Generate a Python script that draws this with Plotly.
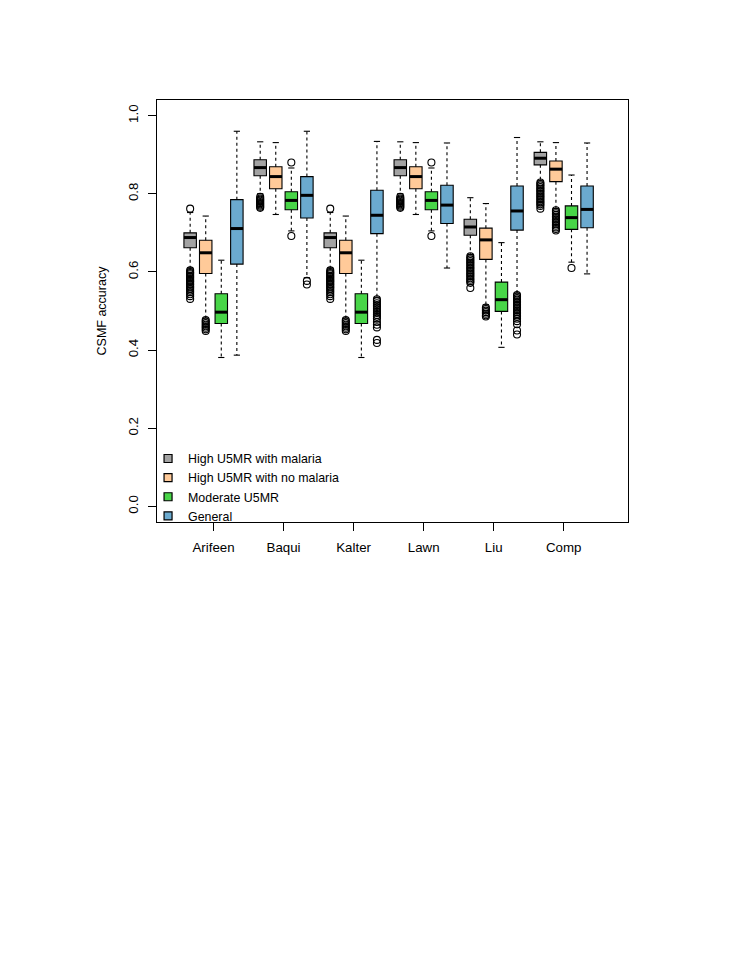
import plotly.graph_objects as go

# ---------------- data ----------------
groups = ["Arifeen", "Baqui", "Kalter", "Lawn", "Liu", "Comp"]
series_names = ["High U5MR with malaria", "High U5MR with no malaria", "Moderate U5MR", "General"]
series_colors = ["#A3A3A3", "#FFCA99", "#48D548", "#6BAACF"]

# High U5MR with malaria (gray)
gray_lower = [0.610, 0.800, 0.610, 0.800, 0.645, 0.833]
gray_q1 = [0.662, 0.846, 0.662, 0.846, 0.694, 0.874]
gray_median = [0.688, 0.867, 0.688, 0.867, 0.715, 0.891]
gray_q3 = [0.700, 0.887, 0.700, 0.887, 0.735, 0.906]
gray_upper = [0.752, 0.933, 0.752, 0.933, 0.790, 0.933]
gray_outliers = [
    [0.762, 0.604, 0.600, 0.597, 0.594, 0.590, 0.587, 0.584, 0.580, 0.577, 0.574,
     0.570, 0.567, 0.563, 0.560, 0.556, 0.552, 0.548, 0.543, 0.538, 0.531],
    [0.792, 0.788, 0.785, 0.782, 0.779, 0.776, 0.773, 0.770, 0.767, 0.764],
    [0.762, 0.604, 0.600, 0.597, 0.594, 0.590, 0.587, 0.584, 0.580, 0.577, 0.574,
     0.570, 0.567, 0.563, 0.560, 0.556, 0.552, 0.548, 0.543, 0.538, 0.531],
    [0.792, 0.788, 0.785, 0.782, 0.779, 0.776, 0.773, 0.770, 0.767, 0.764],
    [0.640, 0.636, 0.632, 0.628, 0.624, 0.620, 0.616, 0.612, 0.608, 0.604, 0.600,
     0.596, 0.592, 0.588, 0.584, 0.580, 0.576, 0.572, 0.559],
    [0.829, 0.825, 0.821, 0.817, 0.813, 0.809, 0.805, 0.801, 0.797, 0.793, 0.789,
     0.785, 0.781, 0.777, 0.773, 0.769, 0.762],
]

# High U5MR with no malaria (orange)
orange_lower = [0.482, 0.747, 0.482, 0.747, 0.516, 0.762]
orange_q1 = [0.596, 0.813, 0.596, 0.813, 0.632, 0.831]
orange_median = [0.649, 0.844, 0.649, 0.844, 0.682, 0.863]
orange_q3 = [0.681, 0.869, 0.681, 0.869, 0.712, 0.884]
orange_upper = [0.743, 0.931, 0.743, 0.931, 0.775, 0.931]
orange_outliers = [
    [0.477, 0.473, 0.469, 0.465, 0.461, 0.457, 0.453, 0.449],
    [],
    [0.477, 0.473, 0.469, 0.465, 0.461, 0.457, 0.453, 0.449],
    [],
    [0.509, 0.505, 0.501, 0.497, 0.493, 0.489, 0.486],
    [0.758, 0.754, 0.750, 0.746, 0.742, 0.738, 0.734, 0.730, 0.726, 0.722, 0.718,
     0.714, 0.710, 0.706],
]

# Moderate U5MR (green)
green_lower = [0.381, 0.705, 0.381, 0.705, 0.407, 0.625]
green_q1 = [0.468, 0.759, 0.468, 0.759, 0.499, 0.709]
green_median = [0.497, 0.783, 0.497, 0.783, 0.529, 0.739]
green_q3 = [0.544, 0.805, 0.544, 0.805, 0.574, 0.769]
green_upper = [0.630, 0.866, 0.630, 0.866, 0.675, 0.848]
green_outliers = [
    [],
    [0.880, 0.692],
    [],
    [0.880, 0.692],
    [],
    [0.610],
]

# General (blue)
blue_lower = [0.387, 0.585, 0.535, 0.610, 0.546, 0.595]
blue_q1 = [0.620, 0.738, 0.698, 0.724, 0.707, 0.713]
blue_median = [0.711, 0.796, 0.745, 0.771, 0.756, 0.760]
blue_q3 = [0.785, 0.844, 0.809, 0.822, 0.820, 0.820]
blue_upper = [0.960, 0.960, 0.934, 0.930, 0.944, 0.930]
blue_outliers = [
    [],
    [0.577, 0.568],
    [0.530, 0.525, 0.520, 0.515, 0.510, 0.505, 0.500, 0.495, 0.490, 0.485, 0.480,
     0.472, 0.465, 0.458, 0.426, 0.418],
    [],
    [0.541, 0.537, 0.533, 0.529, 0.525, 0.521, 0.517, 0.513, 0.509, 0.505, 0.501,
     0.497, 0.493, 0.489, 0.485, 0.480, 0.474, 0.466, 0.450, 0.440],
    [],
]

stats = [
    (gray_lower, gray_q1, gray_median, gray_q3, gray_upper, gray_outliers),
    (orange_lower, orange_q1, orange_median, orange_q3, orange_upper, orange_outliers),
    (green_lower, green_q1, green_median, green_q3, green_upper, green_outliers),
    (blue_lower, blue_q1, blue_median, blue_q3, blue_upper, blue_outliers),
]

# ---------------- layout positions ----------------
group_pos = [2.5 + 4.5 * i for i in range(len(groups))]
offsets = [-1.5, -0.5, 0.5, 1.5]
box_w = 0.8
cap_half = 0.2

FONT = "Liberation Sans, Arial, Helvetica, sans-serif"
fig = go.Figure()

for s, (lo, q1, med, q3, up, outl) in enumerate(stats):
    pos = [g + offsets[s] for g in group_pos]
    # dashed whiskers
    wx, wy = [], []
    for p, a, b, c, d in zip(pos, lo, q1, q3, up):
        wx += [p, p, None, p, p, None]
        wy += [c, d, None, b, a, None]
    fig.add_trace(go.Scatter(x=wx, y=wy, mode="lines",
                             line=dict(color="black", width=1.1, dash="3px,3px"),
                             showlegend=False, hoverinfo="skip"))
    # staples
    cx, cy = [], []
    for p, a, d in zip(pos, lo, up):
        cx += [p - cap_half, p + cap_half, None, p - cap_half, p + cap_half, None]
        cy += [d, d, None, a, a, None]
    fig.add_trace(go.Scatter(x=cx, y=cy, mode="lines",
                             line=dict(color="black", width=1.1),
                             showlegend=False, hoverinfo="skip"))

for s, (lo, q1, med, q3, up, outl) in enumerate(stats):
    pos = [g + offsets[s] for g in group_pos]
    fig.add_trace(go.Box(x=pos, q1=q1, median=med, q3=q3, lowerfence=q1, upperfence=q3,
                         width=box_w, fillcolor=series_colors[s], whiskerwidth=0,
                         line=dict(color="black", width=1.1), boxpoints=False,
                         showlegend=False, hoverinfo="skip"))
    mx, my = [], []
    for p, m in zip(pos, med):
        mx += [p - box_w / 2, p + box_w / 2, None]
        my += [m, m, None]
    fig.add_trace(go.Scatter(x=mx, y=my, mode="lines",
                             line=dict(color="black", width=3),
                             showlegend=False, hoverinfo="skip"))
    ox, oy = [], []
    for p, vals in zip(pos, outl):
        ox += [p] * len(vals)
        oy += vals
    fig.add_trace(go.Scatter(x=ox, y=oy, mode="markers",
                             marker=dict(symbol="circle-open", size=7, color="black",
                                         line=dict(width=1.1, color="black")),
                             showlegend=False, hoverinfo="skip"))

for s, name in enumerate(series_names):
    fig.add_trace(go.Scatter(x=[None], y=[None], mode="markers", name=name,
                             marker=dict(symbol="square", size=8, color=series_colors[s],
                                         line=dict(color="black", width=1.2))))

axis_common = dict(showline=True, linecolor="black", linewidth=1.3, mirror=True,
                   ticks="outside", ticklen=8, tickwidth=1, tickcolor="black",
                   showgrid=False, zeroline=False, automargin=False,
                   tickfont=dict(family=FONT, size=13.3, color="black"))

# the page adds an 8px body margin, so the figure is sized/offset to compensate
fig.update_layout(
    width=740, height=960,
    margin=dict(l=149, r=120, t=92, b=446),
    paper_bgcolor="white", plot_bgcolor="white",
    font=dict(family=FONT, size=12, color="black"),
    boxmode="overlay",
    showlegend=True,
    legend=dict(x=-0.019, y=0.185, xanchor="left", yanchor="top",
                bgcolor="rgba(0,0,0,0)", borderwidth=0,
                font=dict(family=FONT, size=12.4, color="black"),
                traceorder="normal"),
    xaxis=dict(range=[-1.13, 29.13], tickvals=group_pos, ticktext=groups,
               ticklabelstandoff=5, **axis_common),
    yaxis=dict(range=[-0.04, 1.04], tickvals=[0, 0.2, 0.4, 0.6, 0.8, 1.0],
               ticktext=["0.0", "0.2", "0.4", "0.6", "0.8", "1.0"], tickangle=-90,
               ticklabelstandoff=5,
               title=dict(text="CSMF accuracy", standoff=16,
                          font=dict(family=FONT, size=12.5, color="black")),
               **axis_common),
)

fig.write_html("out.html")
